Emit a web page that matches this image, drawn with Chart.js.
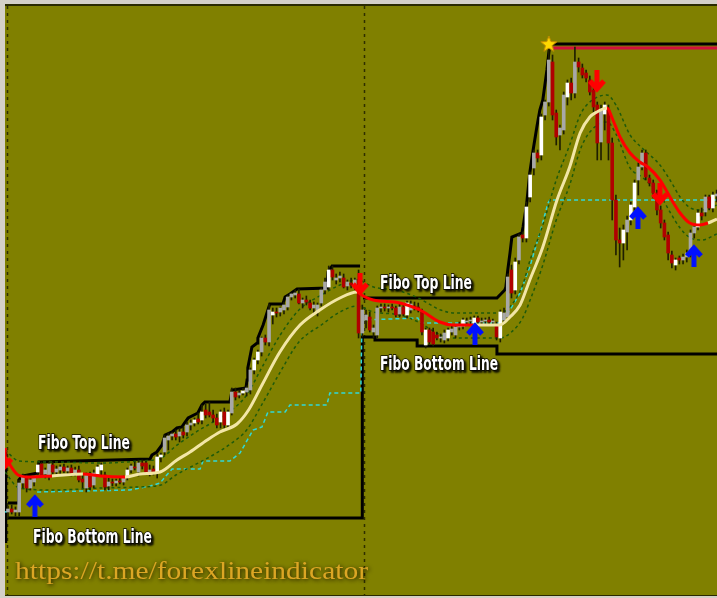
<!DOCTYPE html>
<html>
<head>
<meta charset="utf-8">
<script src="https://cdn.jsdelivr.net/npm/chart.js@4.4.1/dist/chart.umd.min.js"></script>
<style>
  html, body { margin: 0; padding: 0; background: #d4d0c8; }
  #wrap { width: 717px; height: 598px; }
</style>
</head>
<body>
<div id="wrap"><canvas id="chart" width="717" height="598"></canvas></div>
<script>
// candles, one per bar index (price in chart points)
const opens = [
  88,91,88,88,117,122,112,118,128,136, 126,124,135,128,130,133,129,132,127,130,
  121,112,124,115,126,130,125,114,118,117, 119,118,123,130,133,128,137,137,128,131,
  128,143,148,160,164,166,164,168,168,175, 177,181,180,190,188,185,182,178,188,175,
  187,208,205,207,208,210,230,240,248,262, 258,285,288,288,290,293,303,305,306,297,
  300,297,292,288,297,310,313,330,320,322, 322,314,317,315,320,267,280,283,268,265,
  292,293,292,293,292,286,293,285,290,294, 293,288,255,270,268,265,262,260,262,268,
  265,273,274,278,279,277,282,278,279,280, 278,275,262,280,283,330,310,340,365,362,
  403,432,447,445,485,498,538,487,465,470, 503,517,507,538,532,527,520,510,495,458,
  486,490,457,400,360,357,368,380,393,420, 433,447,422,417,407,390,377,365,345,335,
  342,340,343,347,367,373,387,388,403,392, 404
];
const highs = [
  94,95,93,120,126,125,122,124,137,138, 132,138,138,134,135,136,134,135,133,134,
  126,127,128,130,135,137,128,122,121,121, 122,124,132,136,138,140,140,139,135,134,
  146,147,165,167,168,170,172,173,178,180, 182,187,195,196,198,190,186,190,192,190,
  212,212,210,212,214,232,242,250,263,265, 296,292,292,293,298,305,307,310,311,302,
  304,300,298,297,312,322,334,334,326,328, 326,320,322,322,330,295,290,288,275,294,
  296,296,295,296,294,296,296,299,299,298, 297,291,272,272,272,268,266,270,272,274,
  275,278,282,282,283,284,284,282,282,283, 281,278,290,292,326,335,342,366,368,398,
  428,450,450,486,500,553,545,490,475,508, 520,522,553,542,536,530,524,515,498,495,
  498,495,462,405,372,375,384,398,420,437, 450,450,425,420,410,394,380,368,349,342,
  344,346,350,370,375,390,392,405,405,408, 410
];
const lows = [
  82,86,84,84,112,108,110,114,125,124, 122,120,126,124,126,127,125,124,124,118,
  112,108,110,112,124,125,110,110,114,114, 116,115,120,127,130,124,131,126,124,125,
  122,138,145,150,160,160,158,162,164,170, 174,176,176,182,183,178,172,172,172,172,
  185,200,202,205,204,206,226,236,244,255, 254,276,283,284,286,290,300,302,296,292,
  295,290,286,284,294,306,310,320,316,318, 312,310,312,310,262,263,272,268,262,262,
  288,289,288,290,283,283,284,282,287,290, 288,265,252,256,254,260,258,257,259,265,
  262,270,271,275,276,274,276,275,276,276, 275,260,258,276,280,302,306,336,358,358,
  398,425,438,440,480,494,480,455,450,466, 495,500,502,528,522,518,505,488,440,440,
  470,440,380,345,333,340,350,375,390,405, 430,420,414,402,385,372,360,340,332,330,
  336,336,338,343,362,370,380,384,390,388, 398
];
const closes = [
  91,88,90,117,123,112,120,122,135,125, 130,136,128,131,133,129,132,126,130,120,
  118,125,113,127,133,135,113,118,117,119, 118,122,130,134,132,137,134,128,130,128,
  143,145,162,164,166,163,168,165,175,177, 180,178,188,185,185,182,175,188,175,188,
  208,203,207,209,212,230,240,248,262,258, 290,288,287,292,295,303,306,307,297,300,
  298,292,295,295,310,318,330,323,322,324, 313,318,315,320,267,290,285,270,272,292,
  293,292,293,292,285,293,286,297,296,293, 290,268,270,258,256,262,263,267,270,271,
  273,275,280,279,280,282,278,279,280,278, 279,263,288,287,323,307,338,363,362,393,
  425,447,442,483,498,540,485,463,472,505, 517,507,538,533,525,522,508,493,457,490,
  495,457,400,360,357,370,380,395,417,433, 447,423,417,407,390,377,363,347,337,340,
  340,343,347,367,373,387,384,403,392,405, 406
];
// up candles drawn white instead of grey
const whiteCandles = [8, 24, 25, 32, 40, 41, 50, 52, 57, 59, 63, 66, 67, 71, 86, 107, 112, 118,
  122, 125, 132, 136, 139, 140, 143, 150, 160, 165, 167, 168, 179, 185, 189];

// moving average (r = falling / red, y = rising / yellow, per segment)
const maX = [-0.8, 2.7, 5.9, 11.8, 20.1, 24.7, 31.4, 35.4, 40.8, 45.3, 48.8, 53.4, 56.8, 61.4, 64.5,
  68.1, 72.9, 78.3, 83.6, 89, 93.6, 95.2, 97.9, 105.1, 110.5, 115.8, 119.3, 124.7, 131.9, 134.6,
  137.3, 139.9, 143.4, 147.2, 150.6, 153.4, 156, 157.9, 160.6, 162.2, 164.1, 166.8, 169.4, 171.6,
  174.8, 177.5, 180.2, 182.8, 185.5, 187.7, 190.1];
const maY = [143, 125, 123, 124, 126, 124, 123, 126, 128, 140, 148, 160, 168, 176, 190,
  215, 248, 275, 290, 302, 308, 304, 300, 297, 290, 278, 275, 275, 275, 283,
  295, 320, 353, 400, 433, 467, 483, 488, 492, 480, 463, 447, 438, 433,
  420, 403, 387, 377, 375, 377, 381];
const maTrend = "rrryrryyyyyyyyyyyyyyrrrrrrryyyyyyyyyyyrrrrrrrrrrryy";

// dotted envelope around the average
const bandUpX = [-0.8, 3, 12, 25, 35, 41, 45, 50, 55, 60, 64, 68, 73, 78, 84, 89, 93.6, 98, 105, 110,
  116, 120, 125, 132, 135, 138, 140, 143.4, 147, 150.6, 153.4, 156, 160.6, 163, 166.8, 170, 174.8,
  177.5, 180.2, 183, 186, 190.1];
const bandUpY = [150, 139, 138, 137, 139, 142, 154, 167, 178, 190, 205, 232, 265, 290, 305, 315, 320, 313, 309, 302,
  290, 287, 287, 287, 295, 315, 340, 375, 420, 455, 485, 498, 505, 495, 465, 452, 435,
  420, 403, 392, 390, 395];
const bandLoX = bandUpX;
const bandLoY = [128, 112, 110, 112, 113, 115, 125, 135, 145, 157, 170, 195, 228, 258, 275, 288, 294, 288, 285, 278,
  265, 262, 262, 262, 268, 282, 300, 335, 380, 415, 450, 468, 478, 466, 432, 423, 405,
  388, 372, 362, 360, 366];

// cyan dashed line (null = gap)
const cyanX = [-0.8, 1.2, 1.3, 7.8, 32.7, 38.1, 40.8, 42.1, 44, 51.5, 52.3, 59.5, 62.2, 65.7, 68.1, 69.7,
  74.3, 75.6, 85.5, 86.3, 94.6, 94.9, 109.9, 110.5, 131.9, 134.6, 137.3, 139.9, 142.6, 144.8, 145.3, 190.1];
const cyanY = [88, 90, null, 108, 110, 114, 117, 123, 131, 131, 139, 139, 147, 170, 173, 188,
  188, 195, 195, 207, 207, 280, 282, 277, 277, 290, 307, 333, 367, 397, 400, 400];

// Fibo top / bottom lines
const topX = [0, 2.9, 2.9, 3.8, 8.0, 8.3, 38.1, 38.6, 39.9, 41.3, 42.1, 44.0, 45.3, 46.6, 47.5, 48.3,
  50.9, 52.0, 52.8, 59.5, 60.1, 63.8, 64.1, 64.3, 65.4, 66.8, 67.0, 68.4, 70.2, 73.7, 74.3, 75.6,
  77.5, 85.5, 85.8, 86.9, 94.4, 94.8,
  95.2, 131.1, 133.2, 133.5, 134.0, 134.6, 135.1, 137.8, 138.1, 139.1, 139.9, 140.8, 141.8,
  142.6, 143.4, 144.5, 145.0, 145.3, 190.1];
const topY = [97, 97, 120, 124, 127, 138, 141, 145, 148, 155, 165, 168, 172, 173, 178, 182,
  187, 195, 198, 198, 210, 212, 220, 232, 253, 257, 262, 275, 296, 296, 303, 306,
  311, 312, 328, 334, 334, null,
  302, 302, 310, 313, 330, 347, 363, 367, 373, 397, 427, 450, 473,
  490, 500, 530, 547, 556, 556];
const bottomX = [-0.6, -0.6, -0.5, 0, 95, 95, 98.4, 98.4, 109.7, 109.7, 131.1, 131.1, 190.1];
const bottomY = [150, 57, null, 82, 82, 263, 263, 260, 260, 254, 254, 246, 246];
const crimsonX = [145.6, 190.1];
const crimsonY = [552, 552];

// signal arrows and the high marker
const sellX = [-1.0, 94.4, 157.9, 174.8];
const sellY = [140, 315, 518, 405];
const buyX = [7.2, 125.2, 168.9, 183.9];
const buyY = [95, 267, 383, 345];
const starX = [145];
const starY = [556];

// period separators
const separators = [-0.3, 95.4];

const pts = (xs, ys) => xs.map((x, k) => ({ x: x, y: ys[k] }));

function arrowImage(color, up) {
  const c = document.createElement("canvas");
  c.width = 18;
  c.height = 24;
  const g = c.getContext("2d");
  g.strokeStyle = color;
  g.lineWidth = 5;
  g.lineJoin = "miter";
  g.miterLimit = 10;
  g.beginPath();
  if (up) {
    g.moveTo(9, 24); g.lineTo(9, 5);
    g.moveTo(2, 13); g.lineTo(9, 5); g.lineTo(16, 13);
  } else {
    g.moveTo(9, 0); g.lineTo(9, 19);
    g.moveTo(2, 11); g.lineTo(9, 19); g.lineTo(16, 11);
  }
  g.stroke();
  return c;
}

function starImage() {
  const c = document.createElement("canvas");
  c.width = 18;
  c.height = 18;
  const g = c.getContext("2d");
  g.beginPath();
  for (let k = 0; k < 10; k++) {
    const r = k % 2 ? 3.6 : 8.5;
    const a = -Math.PI / 2 + k * Math.PI / 5;
    g.lineTo(9 + r * Math.cos(a), 9.5 + r * Math.sin(a));
  }
  g.closePath();
  g.fillStyle = "#ffd800";
  g.fill();
  g.strokeStyle = "#c08a00";
  g.lineWidth = 1;
  g.stroke();
  return c;
}

function bodyColor(ctx) {
  const i = ctx.dataIndex;
  if (closes[i] < opens[i]) return "#b00000";
  return whiteCandles.includes(i) ? "#ffffff" : "#a8a8a8";
}

const backgroundPlugin = {
  id: "olive",
  beforeDraw(chart) {
    const { ctx, chartArea: a } = chart;
    ctx.save();
    ctx.fillStyle = "#d4d0c8";
    ctx.fillRect(0, 0, chart.width, chart.height);
    ctx.fillStyle = "#808000";
    ctx.fillRect(a.left, a.top, a.right - a.left, a.bottom - a.top);
    ctx.fillStyle = "#2a2a00";
    ctx.fillRect(a.left, a.top - 1, a.right - a.left, 2);
    ctx.fillRect(a.left, a.bottom - 1, a.right - a.left, 1);
    ctx.restore();
  },
  beforeDatasetsDraw(chart) {
    const { ctx, chartArea: a, scales } = chart;
    ctx.save();
    ctx.strokeStyle = "#2e2e00";
    ctx.lineWidth = 1.5;
    ctx.setLineDash([3, 4]);
    separators.forEach((s) => {
      const x = Math.round(scales.x.getPixelForValue(s)) + 0.5;
      ctx.beginPath();
      ctx.moveTo(x, a.top + 1);
      ctx.lineTo(x, a.bottom);
      ctx.stroke();
    });
    ctx.restore();
  },
};

function fitText(ctx, text, x, y, w, stroke) {
  const m = ctx.measureText(text).width;
  ctx.save();
  ctx.translate(x, y);
  ctx.scale(w / m, 1);
  if (stroke) ctx.strokeText(text, 0, 0);
  ctx.fillText(text, 0, 0);
  ctx.restore();
}

const textPlugin = {
  id: "texts",
  afterDatasetsDraw(chart) {
    const ctx = chart.ctx;
    ctx.save();
    ctx.font = "bold 19px 'Liberation Sans Narrow', 'DejaVu Sans Condensed', 'Liberation Sans', sans-serif";
    ctx.fillStyle = "#ffffff";
    ctx.strokeStyle = "#000000";
    ctx.lineWidth = 1.5;
    ctx.shadowColor = "rgba(0,0,0,0.85)";
    ctx.shadowBlur = 2;
    ctx.shadowOffsetX = 2;
    ctx.shadowOffsetY = 2;
    fitText(ctx, "Fibo Top Line", 38, 449, 92, true);
    fitText(ctx, "Fibo Bottom Line", 33, 543, 119, true);
    fitText(ctx, "Fibo Top Line", 380, 289, 92, true);
    fitText(ctx, "Fibo Bottom Line", 380, 370, 118, true);

    ctx.font = "26px 'Liberation Serif', 'DejaVu Serif', serif";
    ctx.fillStyle = "#dca624";
    ctx.shadowColor = "rgba(20,12,0,0.95)";
    ctx.shadowBlur = 4;
    ctx.shadowOffsetX = 1;
    ctx.shadowOffsetY = 1;
    fitText(ctx, "https://t.me/forexlineindicator", 15, 579, 353, false);
    ctx.restore();
  },
};

const config = {
  type: "bar",
  data: {
    datasets: [
      {
        type: "line",
        data: pts(starX, starY),
        showLine: false,
        pointStyle: starImage(),
      },
      {
        type: "line",
        data: pts(sellX, sellY),
        showLine: false,
        pointStyle: arrowImage("#ff0000", false),
      },
      {
        type: "line",
        data: pts(buyX, buyY),
        showLine: false,
        pointStyle: arrowImage("#0010ff", true),
      },
      {
        type: "line",
        data: pts(maX, maY),
        borderWidth: 3,
        pointRadius: 0,
        cubicInterpolationMode: "monotone",
        borderColor: "#f2e6a6",
        segment: {
          borderColor: (c) => (maTrend[c.p0DataIndex] === "r" ? "#ff0000" : "#f2e6a6"),
        },
      },
      {
        type: "bar",
        data: opens.map((o, i) => ({ x: i, y: [o, closes[i]] })),
        backgroundColor: bodyColor,
        barThickness: 3,
        grouped: false,
        borderWidth: 0,
      },
      {
        type: "bar",
        data: highs.map((h, i) => ({ x: i, y: [lows[i], h] })),
        backgroundColor: "#1e1e00",
        barThickness: 1,
        grouped: false,
        borderWidth: 0,
      },
      {
        type: "line",
        data: pts(bandUpX, bandUpY),
        borderColor: "#1f5a0a",
        borderWidth: 1.5,
        borderDash: [3, 3],
        pointRadius: 0,
        cubicInterpolationMode: "monotone",
      },
      {
        type: "line",
        data: pts(bandLoX, bandLoY),
        borderColor: "#1f5a0a",
        borderWidth: 1.5,
        borderDash: [3, 3],
        pointRadius: 0,
        cubicInterpolationMode: "monotone",
      },
      {
        type: "line",
        data: pts(cyanX, cyanY),
        borderColor: "#30d8d8",
        borderWidth: 1.5,
        borderDash: [4, 3],
        pointRadius: 0,
        tension: 0,
      },
      {
        type: "line",
        data: pts(crimsonX, crimsonY),
        borderColor: "#d0103c",
        borderWidth: 3,
        pointRadius: 0,
      },
      {
        type: "line",
        data: pts(topX, topY),
        borderColor: "#000000",
        borderWidth: 3,
        pointRadius: 0,
        tension: 0,
      },
      {
        type: "line",
        data: pts(bottomX, bottomY),
        borderColor: "#000000",
        borderWidth: 3,
        pointRadius: 0,
        tension: 0,
      },
    ],
  },
  options: {
    responsive: false,
    animation: false,
    layout: { autoPadding: false, padding: { left: 5, top: 5, right: 0, bottom: 2 } },
    plugins: {
      legend: { display: false },
      tooltip: { enabled: false },
    },
    scales: {
      x: { type: "linear", min: -0.8, max: 190.1, offset: false, display: false },
      y: { type: "linear", min: 4, max: 595, display: false },
    },
  },
  plugins: [backgroundPlugin, textPlugin],
};

new Chart(document.getElementById("chart"), config);
</script>
</body>
</html>
